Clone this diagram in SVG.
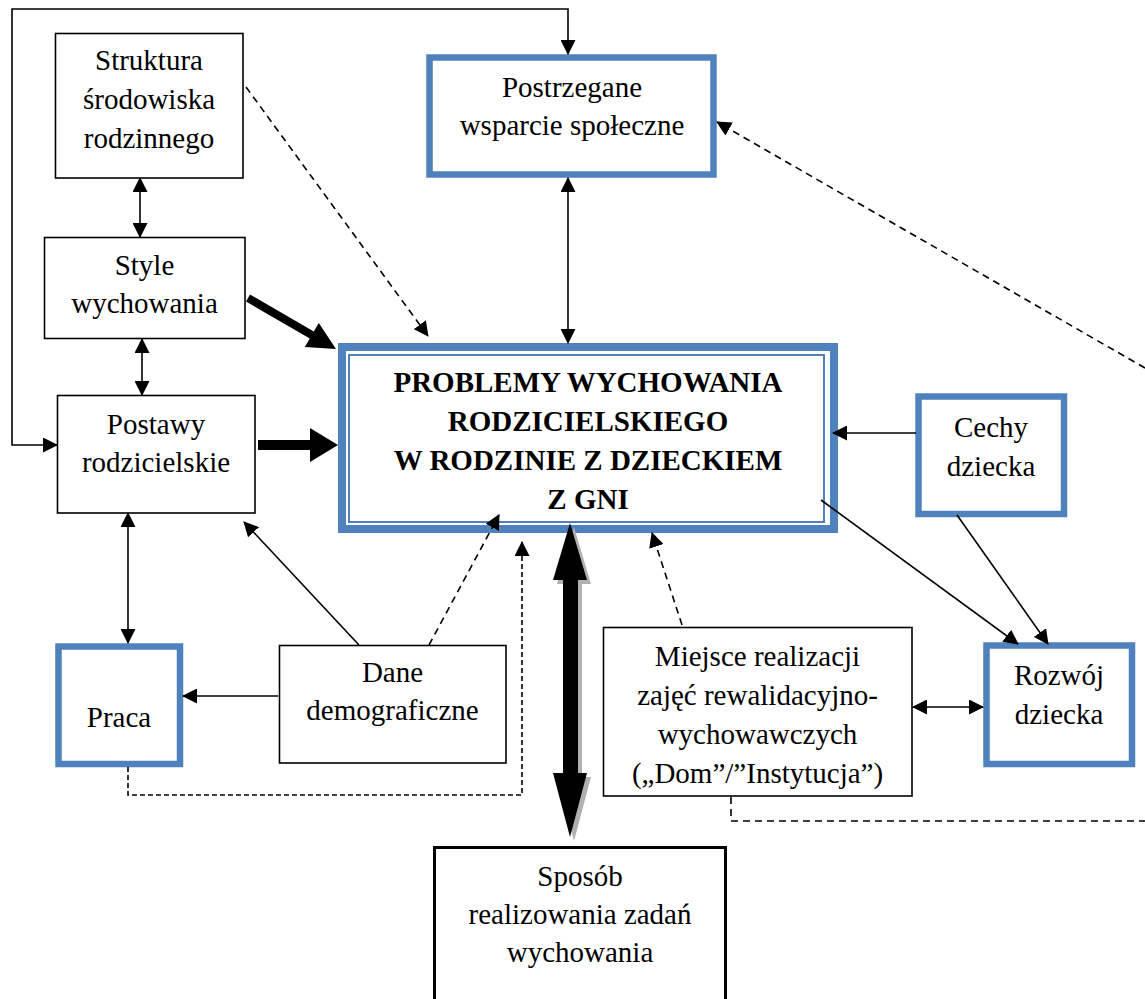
<svg xmlns="http://www.w3.org/2000/svg" width="1145" height="999" viewBox="0 0 1145 999">
<defs>
<marker id="ah" markerUnits="userSpaceOnUse" markerWidth="15" markerHeight="15" viewBox="0 0 15 15" refX="14" refY="7.5" orient="auto-start-reverse"><path d="M0,0 L15,7.5 L0,15 z" fill="#000"/></marker>
<style>
.t{font-family:"Liberation Serif","Times New Roman",serif;font-size:29px;fill:#000;text-anchor:middle}
.b{font-weight:bold}
.bx{fill:#fff;stroke:#000;stroke-width:1.6}
.bl{fill:#fff;stroke:#4f81bd;stroke-width:6.5}
.c{fill:none;stroke:#000;stroke-width:1.6}
.d{stroke-dasharray:7,5}
.d2{stroke-dasharray:5,3}
.a{marker-end:url(#ah)}
.aa{marker-start:url(#ah);marker-end:url(#ah)}
</style>
</defs>
<rect width="1145" height="999" fill="#fff"/>
<g id="struktura"><rect class="bx" x="55.5" y="33.5" width="187.5" height="144.5"/>
<text class="t" x="149" y="70">Struktura</text><text class="t" x="149" y="109">środowiska</text><text class="t" x="149" y="148">rodzinnego</text></g>
<g id="postrzegane"><rect class="bl" x="429.5" y="57.5" width="284" height="117" stroke-width="7"/>
<text class="t" x="572" y="97">Postrzegane</text><text class="t" x="572" y="135">wsparcie społeczne</text></g>
<g id="style"><rect class="bx" x="44.5" y="237.5" width="200.5" height="101"/>
<text class="t" x="144.5" y="275">Style</text><text class="t" x="144.5" y="313">wychowania</text></g>
<g id="postawy"><rect class="bx" x="57.5" y="395.5" width="197.5" height="117.5"/>
<text class="t" x="156" y="434">Postawy</text><text class="t" x="156" y="472">rodzicielskie</text></g>
<g id="problemy">
<rect x="342" y="347" width="492" height="182" fill="#fff" stroke="#4f81bd" stroke-width="8"/>
<rect x="349" y="355" width="475" height="167" fill="none" stroke="#4f81bd" stroke-width="2"/>
<text class="t b" x="588" y="392">PROBLEMY WYCHOWANIA</text>
<text class="t b" x="588" y="431">RODZICIELSKIEGO</text>
<text class="t b" x="588" y="470">W RODZINIE Z DZIECKIEM</text>
<text class="t b" x="588" y="509">Z GNI</text></g>
<g id="cechy"><rect class="bl" x="918.5" y="396.5" width="145.5" height="117.5"/>
<text class="t" x="991" y="437">Cechy</text><text class="t" x="991" y="476">dziecka</text></g>
<g id="praca"><rect class="bl" x="58.5" y="646.5" width="121.5" height="117.5"/>
<text class="t" x="119" y="727">Praca</text></g>
<g id="dane"><rect class="bx" x="279.5" y="645.5" width="226.5" height="117.5"/>
<text class="t" x="392.5" y="682">Dane</text><text class="t" x="392.5" y="720">demograficzne</text></g>
<g id="miejsce"><rect class="bx" x="603.5" y="627.5" width="308.5" height="168.5"/>
<text class="t" x="757.5" y="666">Miejsce realizacji</text><text class="t" x="757.5" y="705">zajęć rewalidacyjno-</text><text class="t" x="757.5" y="744">wychowawczych</text><text class="t" x="757.5" y="783">(„Dom”/”Instytucja”)</text></g>
<g id="rozwoj"><rect class="bl" x="986.5" y="645.5" width="145.5" height="118.5"/>
<text class="t" x="1059" y="685">Rozwój</text><text class="t" x="1059" y="724">dziecka</text></g>
<g id="sposob"><rect x="434.5" y="847.5" width="291" height="170" fill="#fff" stroke="#000" stroke-width="3"/>
<text class="t" x="580" y="886">Sposób</text><text class="t" x="580" y="924">realizowania zadań</text><text class="t" x="580" y="962">wychowania</text></g>
<g id="connectors">
<path class="c aa" d="M57,445 L12,445 L12,9 L568,9 L568,54"/>
<path class="c aa" d="M140,178 L140,237"/>
<path class="c aa" d="M142,339 L142,395"/>
<path class="c aa" d="M128,513 L128,643"/>
<path class="c aa" d="M568,178 L568,343"/>
<path class="c d a" d="M246,87 L428,336"/>
<path class="c a" d="M916,433 L833,433"/>
<path class="c a" d="M821,500 L1018,644"/>
<path class="c a" d="M957,515 L1048,644"/>
<path class="c aa" d="M913,707 L983,707"/>
<path class="c d a" d="M682,625 L652,533"/>
<path class="c a" d="M359,645 L244,522"/>
<path class="c d a" d="M429,645 L499,515"/>
<path class="c a" d="M278,696 L183,696"/>
<path class="c d2 a" d="M128,767 L128,795 L522,795 L522,542"/>
<path class="c d" d="M731,797 L731,821 L1145,821"/>
<path class="c d a" d="M1145,368 L717,122"/>
<polygon points="250.0,294.5 313.8,331.5 318.8,322.9 336,349 304.8,347.1 309.8,338.5 246.0,301.5" fill="#000"/>
<polygon points="258,440 310,440 310,428 338,445 310,462 310,450 258,450" fill="#000"/>
<polygon points="574,527 591,584 582,584 582,777 591,777 574,841 557,777 567,777 567,584 557,584" fill="#b0b0b0"/>
<polygon points="570,523 587,580 578,580 578,773 587,773 570,837 553,773 563,773 563,580 553,580" fill="#000"/>
</g>
</svg>
